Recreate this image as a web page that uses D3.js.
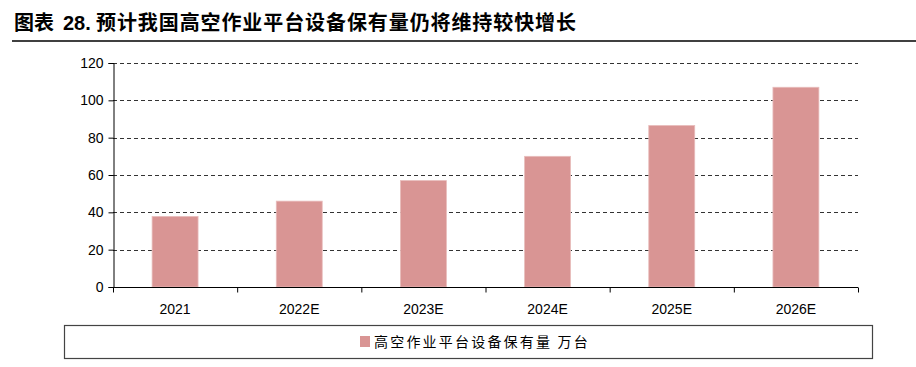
<!DOCTYPE html>
<html><head><meta charset="utf-8">
<script src="https://cdn.jsdelivr.net/npm/d3@7"></script>
<style>
html,body{margin:0;padding:0;background:#fff;}
svg{display:block;}
</style></head>
<body>
<svg id="chart" width="916" height="367"></svg>
<script>
const categories = ["2021","2022E","2023E","2024E","2025E","2026E"];
const values = [37.8, 46, 57, 70, 86.5, 107];
const yTicks = [0,20,40,60,80,100,120];
const seriesName = "高空作业平台设备保有量 万台";
const titlePrefix = "图表";
const titleNum = "28.";
const titleText = "预计我国高空作业平台设备保有量仍将维持较快增长";

const svg = d3.select("#chart");
const cjk = "'Noto Sans CJK SC','Noto Sans',sans-serif";
const latin = "'Liberation Sans',Arial,sans-serif";

// Title
const t = svg.append("text").attr("y", 30).attr("font-family", cjk)
  .attr("font-weight", "bold").attr("font-size", 20).attr("fill", "#000");
t.append("tspan").attr("x", 14).text(titlePrefix);
t.append("tspan").attr("x", 63).attr("font-family", latin).attr("font-size", 20).text(titleNum);
t.append("tspan").attr("x", 96).attr("textLength", 480).attr("lengthAdjust", "spacing").text(titleText);
svg.append("line").attr("x1", 12).attr("x2", 916).attr("y1", 41).attr("y2", 41)
  .attr("stroke", "#000").attr("stroke-width", 1.3);

// Scales
const x = d3.scaleBand().domain(categories).range([113, 858]).paddingInner(0.63).paddingOuter(0.315);
const xAxisScale = d3.scaleBand().domain(categories).range([113, 858]);
const y = d3.scaleLinear().domain([0, 120]).range([287, 63]);

// Gridlines
svg.append("g").selectAll("line").data(yTicks.filter(d => d > 0)).join("line")
  .attr("x1", 113).attr("x2", 858)
  .attr("y1", d => Math.round(y(d)) + 0.5).attr("y2", d => Math.round(y(d)) + 0.5)
  .attr("stroke", "#333").attr("stroke-width", 1).attr("stroke-dasharray", "4,3");

// Bars
svg.append("g").selectAll("rect").data(values).join("rect")
  .attr("x", (d, i) => x(categories[i]))
  .attr("width", x.bandwidth())
  .attr("y", d => y(d))
  .attr("height", d => y(0) - y(d))
  .attr("fill", "#d99594")
  .attr("stroke", "#e8bcbb").attr("stroke-width", 0.8);

// Y axis
const yAxis = d3.axisLeft(y).tickValues(yTicks).tickSize(5).tickPadding(5);
const gy = svg.append("g").attr("transform", "translate(113.5,0)").call(yAxis);
gy.select(".domain").attr("stroke", "#000");
gy.selectAll(".tick line").attr("stroke", "#000");
gy.selectAll("text").attr("font-family", latin).attr("font-size", 14).attr("fill", "#000");

// X axis
const gx = svg.append("g").attr("transform", "translate(0,287.5)");
gx.append("line").attr("x1", 113).attr("x2", 858).attr("stroke", "#000");
const tickPos = categories.map(c => xAxisScale(c)).concat([858]);
gx.selectAll("line.tk").data(tickPos).join("line").attr("class", "tk")
  .attr("x1", d => d + 0.5).attr("x2", d => d + 0.5).attr("y1", 0).attr("y2", 5)
  .attr("stroke", "#000");
gx.selectAll("text").data(categories).join("text")
  .attr("x", d => xAxisScale(d) + xAxisScale.bandwidth() / 2)
  .attr("y", 26).attr("text-anchor", "middle")
  .attr("font-family", latin).attr("font-size", 14).attr("fill", "#000")
  .text(d => d);

// Legend
svg.append("rect").attr("x", 64.5).attr("y", 325.5).attr("width", 808).attr("height", 33)
  .attr("fill", "none").attr("stroke", "#444").attr("stroke-width", 1.2);
svg.append("rect").attr("x", 360).attr("y", 336).attr("width", 10).attr("height", 11).attr("fill", "#d99594");
svg.append("text").attr("x", 374).attr("y", 347).attr("font-family", cjk)
  .attr("font-size", 14).attr("letter-spacing", 2.2).attr("fill", "#000").text(seriesName);
</script>
</body></html>
